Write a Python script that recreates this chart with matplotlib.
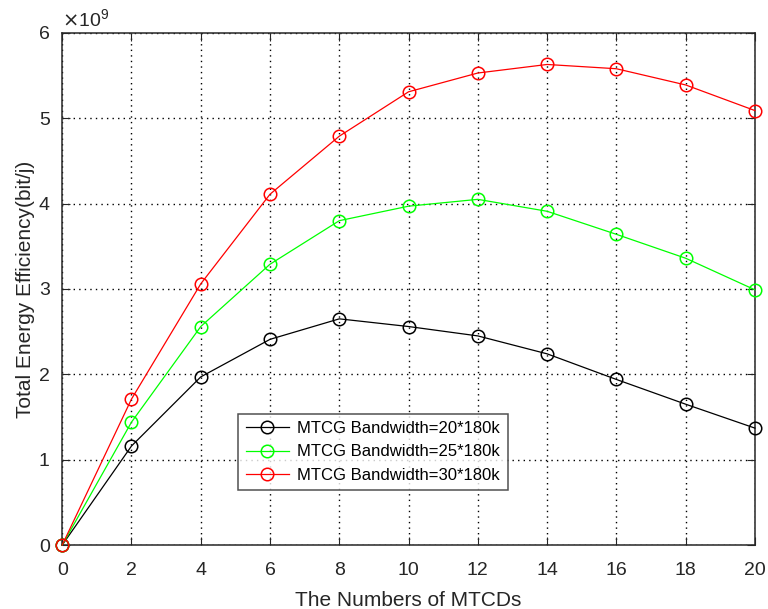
import numpy as np
import matplotlib.pyplot as plt

# number of MTCDs
mtcds = [0, 2, 4, 6, 8, 10, 12, 14, 16, 18, 20]

# total energy efficiency, units of 1e9 bit/J
ee_20 = [0, 1.16, 1.97, 2.41, 2.65, 2.56, 2.45, 2.24, 1.94, 1.65, 1.37]
ee_25 = [0, 1.44, 2.56, 3.29, 3.80, 3.97, 4.05, 3.91, 3.64, 3.36, 2.99]
ee_30 = [0, 1.71, 3.06, 4.11, 4.79, 5.31, 5.53, 5.63, 5.58, 5.39, 5.09]

labels = ['MTCG Bandwidth=20*180k', 'MTCG Bandwidth=25*180k', 'MTCG Bandwidth=30*180k']
colors = ['black', '#00ff00', 'red']

plt.rcParams['font.family'] = ['Liberation Sans', 'DejaVu Sans']

fig = plt.figure(figsize=(7.68, 6.09), dpi=100)
ax = fig.add_axes([0.081, 0.105, 0.902, 0.841])

for y, c, lab in zip([ee_20, ee_25, ee_30], colors, labels):
    ax.plot(mtcds, np.array(y) * 1e9, color=c, lw=0.9, marker='o', ms=9,
            mfc='none', mec=c, mew=1.1, label=lab, clip_on=False, zorder=3)

ax.set_xlim(0, 20)
ax.set_ylim(0, 6e9)
ax.set_xticks(range(0, 21, 2))
ax.set_yticks(np.arange(0, 7) * 1e9)
ax.set_yticklabels([str(i) for i in range(7)])
ax.tick_params(direction='in', top=True, right=True, length=6,
               labelsize=14, colors='#262626')
ax.tick_params(axis='x', pad=12)
ax.tick_params(axis='y', pad=9)
ax.grid(True, ls=(0, (1, 3)), color='black', lw=1.0)
for s in ax.spines.values():
    s.set_linewidth(1.1)
    s.set_color('#262626')

ax.text(0.0, 1.005, r'$\times\mathregular{10^9}$', transform=ax.transAxes,
        fontsize=14, color='#262626', va='bottom', ha='left')

ax.set_xlabel('The Numbers of MTCDs', fontsize=15, color='#262626', labelpad=9)
ax.set_ylabel('Total Energy Efficiency(bit/j)', fontsize=15, color='#262626', labelpad=3)

leg = ax.legend(loc='lower left', bbox_to_anchor=(0.254, 0.107), borderaxespad=0,
                fontsize=12, frameon=True, fancybox=False, edgecolor='#262626',
                handlelength=2.6, borderpad=0.45, labelspacing=0.5,
                handletextpad=0.5)
leg.get_frame().set_linewidth(1.1)

fig.savefig('out.png', dpi=100)
